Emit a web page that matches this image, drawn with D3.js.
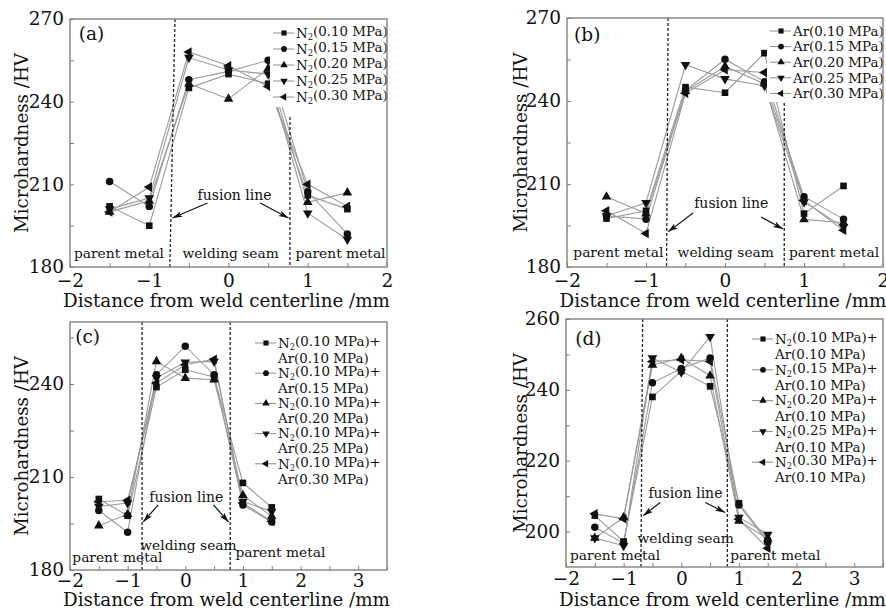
<!DOCTYPE html>
<html lang="en">
  <head>
    <meta charset="UTF-8" />
    <title>Microhardness across weld</title>
    <script src="https://d3js.org/d3.v7.min.js"></script>
    <style>
      body {
        margin: 0;
        padding: 0;
        background: #fff;
      }
      svg {
        font-family: "DejaVu Serif", serif;
      }
    </style>
  </head>
  <body>
    <svg width="886" height="610"></svg>
    <script>
      // measured positions from weld centre (mm)
      const xPos = [-1.5, -1, -0.5, 0, 0.5, 1, 1.5];

      const labelsA = ["N2(0.10 MPa)", "N2(0.15 MPa)", "N2(0.20 MPa)", "N2(0.25 MPa)", "N2(0.30 MPa)"];
      const valuesA = [
        [202, 195, 245, 250, 246.5, 206, 201],
        [211, 202, 248, 251, 255, 207.3, 192],
        [200, 204, 246.5, 241, 252, 203.5, 207],
        [201, 205, 256, 251.5, 250, 199.5, 190],
        [200, 209, 258, 253, 245.5, 210, 202],
      ];

      const labelsB = ["Ar(0.10 MPa)", "Ar(0.15 MPa)", "Ar(0.20 MPa)", "Ar(0.25 MPa)", "Ar(0.30 MPa)"];
      const valuesB = [
        [197.5, 200.3, 245, 243, 257.3, 199.3, 209.3],
        [198.5, 197.3, 243.8, 255.1, 247, 205.4, 197.3],
        [205.4, 199.3, 243.5, 252.5, 246.2, 197.2, 196],
        [198.4, 203.2, 253.1, 248, 245.5, 203.5, 194.5],
        [200.3, 192.1, 242.8, 251.3, 250.3, 204, 193.3],
      ];

      const labelsC = [
        ["N2(0.10 MPa)+", "Ar(0.10 MPa)"],
        ["N2(0.10 MPa)+", "Ar(0.15 MPa)"],
        ["N2(0.10 MPa)+", "Ar(0.20 MPa)"],
        ["N2(0.10 MPa)+", "Ar(0.25 MPa)"],
        ["N2(0.10 MPa)+", "Ar(0.30 MPa)"],
      ];
      const valuesC = [
        [202.9, 197.5, 239, 244.6, 242.3, 208.1, 200.2],
        [199.2, 192.2, 243, 252.2, 243, 201, 195.5],
        [194.3, 198, 247.3, 241.9, 241.4, 204.1, 197.3],
        [200.5, 201.6, 242, 247, 247.3, 202.1, 198.9],
        [202, 202.5, 240.3, 246.2, 248, 201.6, 195.7],
      ];

      const labelsD = [
        ["N2(0.10 MPa)+", "Ar(0.10 MPa)"],
        ["N2(0.15 MPa)+", "Ar(0.10 MPa)"],
        ["N2(0.20 MPa)+", "Ar(0.10 MPa)"],
        ["N2(0.25 MPa)+", "Ar(0.10 MPa)"],
        ["N2(0.30 MPa)+", "Ar(0.10 MPa)"],
      ];
      const valuesD = [
        [204.5, 197.2, 238, 245.3, 241, 208, 197.5],
        [201.2, 196.7, 242, 246, 249, 207.5, 197],
        [198.2, 204, 247, 249, 244, 203, 198],
        [198.2, 196, 249, 245, 255, 204, 199.2],
        [205, 203.6, 248, 248.5, 248, 203.5, 195.3],
      ];

      const svg = d3.select("svg");

      const symbols = [
        { type: d3.symbolSquare, rot: 0, size: 44 },
        { type: d3.symbolCircle, rot: 0, size: 44 },
        { type: d3.symbolTriangle, rot: 0, size: 40 },
        { type: d3.symbolTriangle, rot: 180, size: 40 },
        { type: d3.symbolTriangle, rot: -90, size: 40 },
      ];

      // text with "N2" written as N + subscript 2
      function richText(sel, str) {
        const parts = str.split("N2");
        parts.forEach((p, i) => {
          if (i > 0) {
            sel.append("tspan").text("N");
            sel.append("tspan").attr("font-size", "0.62em").attr("dy", "0.28em").text("2");
            sel.append("tspan").attr("dy", "-0.28em").text(p);
          } else if (p) {
            sel.append("tspan").text(p);
          }
        });
      }

      const panels = [
        {
          tag: "(a)", labels: labelsA, values: valuesA,
          left: 70, right: 387, top: 19, bottom: 267,
          xDom: [-2, 2], yDom: [180, 270],
          yTicks: d3.range(180, 271, 15), yLabels: [180, 210, 240, 270],
          xTicks: d3.range(-2, 2.01, 0.5), xLabels: [-2, -1, 0, 1, 2],
          fusion: [[-0.675, 270, -0.74, 180], [0.776, 234.4, 0.776, 180]],
          tagPos: [-1.89, 262.2],
          pm1: [-1.95, 183.4], seam: [-0.58, 183.4], pm2: [0.845, 183.4],
          fl: [-0.39, 204.3],
          arrows: [[-0.265, 203.2, -0.707, 197.8], [0.4, 203.2, 0.757, 197.8]],
          legend: { x: 273, y: 33, dy: 16, two: false, bg: [270, 24, 116, 83] },
          yTitleX: 22, xTitleY: 307, xPad: 7,
        },
        {
          tag: "(b)", labels: labelsB, values: valuesB,
          left: 567, right: 883, top: 18, bottom: 267,
          xDom: [-2, 2], yDom: [180, 270],
          yTicks: d3.range(180, 271, 15), yLabels: [180, 210, 240, 270],
          xTicks: d3.range(-2, 2.01, 0.5), xLabels: [-2, -1, 0, 1, 2],
          fusion: [[-0.72, 270, -0.74, 180], [0.75, 239.3, 0.75, 180]],
          tagPos: [-1.91, 261.7],
          pm1: [-1.92, 183.6], seam: [-0.6, 183.6], pm2: [0.81, 183.6],
          fl: [-0.39, 201.3],
          arrows: [[-0.405, 199.5, -0.72, 192.7], [0.456, 198.1, 0.734, 193.7]],
          legend: { x: 770, y: 31, dy: 15.6, two: false, bg: [767, 22, 115, 80] },
          yTitleX: 521, xTitleY: 307, xPad: 7,
        },
        {
          tag: "(c)", labels: labelsC, values: valuesC,
          left: 70, right: 387, top: 322, bottom: 570,
          xDom: [-2, 3.5], yDom: [180, 260],
          yTicks: d3.range(180, 256, 15), yLabels: [180, 210, 240],
          xTicks: d3.range(-2, 3.51, 0.5), xLabels: [-2, -1, 0, 1, 2, 3],
          fusion: [[-0.75, 260, -0.75, 180], [0.78, 260, 0.78, 180]],
          tagPos: [-1.91, 253.2],
          pm1: [-1.96, 182.6], seam: [-0.78, 186.5], pm2: [0.87, 184.2],
          fl: [-0.625, 201.9],
          arrows: [[-0.47, 201, -0.73, 195.5], [0.49, 201, 0.75, 195.5]],
          legend: { x: 255, y: 343, dy: 15.1, two: true, bg: null },
          yTitleX: 22, xTitleY: 606, xPad: 4,
        },
        {
          tag: "(d)", labels: labelsD, values: valuesD,
          left: 566, right: 883, top: 319, bottom: 567,
          xDom: [-2, 3.5], yDom: [190, 260],
          yTicks: d3.range(200, 261, 10), yLabels: [200, 220, 240, 260],
          xTicks: d3.range(-2, 3.51, 0.5), xLabels: [-2, -1, 0, 1, 2, 3],
          fusion: [[-0.67, 260, -0.7, 190], [0.8, 260, 0.8, 190]],
          tagPos: [-1.84, 252.7],
          pm1: [-1.93, 192.1], seam: [-0.76, 196.9], pm2: [0.85, 192],
          fl: [-0.57, 209.6],
          arrows: [[-0.365, 208.2, -0.66, 204.5], [0.417, 208.2, 0.76, 205.4]],
          legend: { x: 752, y: 339, dy: 15.4, two: true, bg: null },
          yTitleX: 521, xTitleY: 606, xPad: 5,
        },
      ];

      const defs = svg.append("defs");
      defs
        .append("marker")
        .attr("id", "arrow")
        .attr("viewBox", "0 0 10 6")
        .attr("refX", 10)
        .attr("refY", 3)
        .attr("markerWidth", 10)
        .attr("markerHeight", 6)
        .attr("markerUnits", "userSpaceOnUse")
        .attr("orient", "auto")
        .append("path")
        .attr("d", "M0,0L10,3L0,6L2.5,3Z")
        .attr("fill", "#111");

      panels.forEach((p) => {
        const x = d3.scaleLinear().domain(p.xDom).range([p.left, p.right]);
        const y = d3.scaleLinear().domain(p.yDom).range([p.bottom, p.top]);
        const g = svg.append("g");

        // series lines + markers
        const line = d3
          .line()
          .x((d, i) => x(xPos[i]))
          .y((d) => y(d));

        p.values.forEach((vals) => {
          g.append("path")
            .attr("d", line(vals))
            .attr("fill", "none")
            .attr("stroke", "#9a9a9a")
            .attr("stroke-width", 1.1);
        });
        p.values.forEach((vals, si) => {
          const s = symbols[si];
          g.selectAll(null)
            .data(vals)
            .join("path")
            .attr("d", d3.symbol().type(s.type).size(s.size))
            .attr("transform", (d, i) => `translate(${x(xPos[i])},${y(d)}) rotate(${s.rot})`)
            .attr("fill", "#111");
        });

        // legend
        const lg = p.legend;
        if (lg.bg) {
          g.append("rect")
            .attr("x", lg.bg[0])
            .attr("y", lg.bg[1])
            .attr("width", lg.bg[2])
            .attr("height", lg.bg[3])
            .attr("fill", "#fff");
        }
        p.labels.forEach((lab, i) => {
          const cy = lg.two ? lg.y + i * 2 * lg.dy : lg.y + i * lg.dy;
          g.append("line")
            .attr("x1", lg.x)
            .attr("x2", lg.x + 21)
            .attr("y1", cy)
            .attr("y2", cy)
            .attr("stroke", "#8a8a8a")
            .attr("stroke-width", 1);
          const s = symbols[i];
          g.append("path")
            .attr("d", d3.symbol().type(s.type).size(s.size * 0.6))
            .attr("transform", `translate(${lg.x + 11},${cy}) rotate(${s.rot})`)
            .attr("fill", "#111");
          const lines = lg.two ? lab : [lab];
          lines.forEach((ln, k) => {
            const t = g
              .append("text")
              .attr("x", lg.x + 23)
              .attr("y", cy + k * lg.dy + 4.7)
              .attr("font-size", 13.4)
              .attr("fill", "#111");
            richText(t, ln);
          });
        });

        // fusion lines
        p.fusion.forEach((f) => {
          g.append("line")
            .attr("x1", x(f[0]))
            .attr("y1", y(f[1]))
            .attr("x2", x(f[2]))
            .attr("y2", y(f[3]))
            .attr("stroke", "#222")
            .attr("stroke-width", 1.3)
            .attr("stroke-dasharray", "3,2");
        });

        // zone labels
        [[p.pm1, "parent metal"], [p.seam, "welding seam"], [p.pm2, "parent metal"]].forEach(([pos, txt]) => {
          g.append("text")
            .attr("x", x(pos[0]))
            .attr("y", y(pos[1]))
            .attr("font-size", 13.8)
            .attr("fill", "#111")
            .text(txt);
        });
        g.append("text")
          .attr("x", x(p.fl[0]))
          .attr("y", y(p.fl[1]))
          .attr("font-size", 14)
          .attr("fill", "#111")
          .text("fusion line");
        p.arrows.forEach((a) => {
          g.append("line")
            .attr("x1", x(a[0]))
            .attr("y1", y(a[1]))
            .attr("x2", x(a[2]))
            .attr("y2", y(a[3]))
            .attr("stroke", "#111")
            .attr("stroke-width", 1.2)
            .attr("marker-end", "url(#arrow)");
        });

        g.append("text")
          .attr("x", x(p.tagPos[0]))
          .attr("y", y(p.tagPos[1]))
          .attr("font-size", 18.5)
          .attr("fill", "#111")
          .text(p.tag);

        // frame
        g.append("rect")
          .attr("x", p.left)
          .attr("y", p.top)
          .attr("width", p.right - p.left)
          .attr("height", p.bottom - p.top)
          .attr("fill", "none")
          .attr("stroke", "#808080")
          .attr("stroke-width", 1.4);

        // axes
        const xAxis = d3
          .axisBottom(x)
          .tickValues(p.xTicks)
          .tickSizeInner(-4)
          .tickSizeOuter(0)
          .tickPadding(p.xPad)
          .tickFormat((d) => (p.xLabels.includes(d) ? d3.format("")(d) : ""));
        const xa = g.append("g").attr("transform", `translate(0,${p.bottom})`).call(xAxis);
        const yAxis = d3
          .axisLeft(y)
          .tickValues(p.yTicks)
          .tickSizeInner(-4)
          .tickSizeOuter(0)
          .tickPadding(6)
          .tickFormat((d) => (p.yLabels.includes(d) ? d : ""));
        const ya = g.append("g").attr("transform", `translate(${p.left},0)`).call(yAxis);
        [xa, ya].forEach((a) => {
          a.select(".domain").remove();
          a.selectAll("line").attr("stroke", "#808080");
          a.selectAll("text")
            .attr("font-size", 18.5)
            .attr("font-family", "DejaVu Serif, serif")
            .attr("fill", "#111");
        });

        // titles
        g.append("text")
          .attr("transform", `translate(${p.yTitleX + 6},${(p.top + p.bottom) / 2}) rotate(-90)`)
          .attr("text-anchor", "middle")
          .attr("font-size", 18.3)
          .attr("fill", "#111")
          .text("Microhardness /HV");
        g.append("text")
          .attr("x", (p.left + p.right) / 2 - 2)
          .attr("y", p.xTitleY)
          .attr("text-anchor", "middle")
          .attr("font-size", 18.3)
          .attr("fill", "#111")
          .text("Distance from weld centerline /mm");
      });
    </script>
  </body>
</html>
